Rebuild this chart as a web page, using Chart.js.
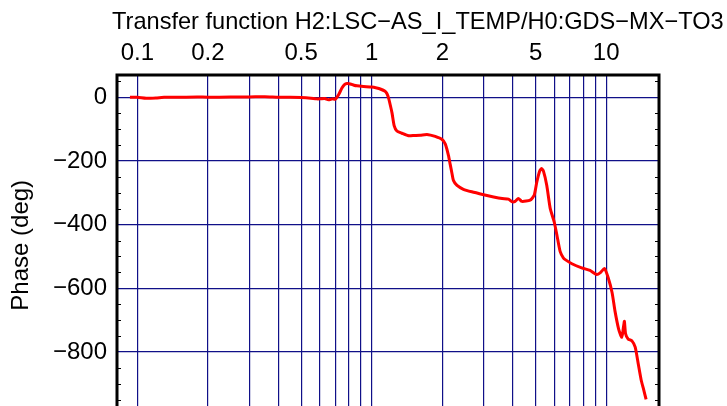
<!DOCTYPE html>
<html>
<head>
<meta charset="utf-8">
<script src="https://cdn.jsdelivr.net/npm/chart.js@4/dist/chart.umd.min.js"></script>
<style>
  html, body { margin: 0; padding: 0; overflow: hidden; background: #fff; }
  #wrap { width: 727px; height: 440px; }
</style>
</head>
<body>
<div id="wrap"><canvas id="phaseChart" width="727" height="440"></canvas></div>
<script>
// Transfer function phase
const freq = [0.093, 0.1, 0.109, 0.12, 0.13, 0.15, 0.18, 0.2, 0.25, 0.3, 0.35, 0.4, 0.45, 0.5, 0.55, 0.58,
  0.603, 0.63, 0.654, 0.68, 0.699, 0.722, 0.746, 0.765, 0.784, 0.81, 0.84, 0.865, 0.923, 1.0, 1.05, 1.087,
  1.14, 1.16, 1.179, 1.2, 1.22, 1.247, 1.28, 1.345, 1.436, 1.52, 1.61, 1.72, 1.78, 1.865, 1.99, 2.06,
  2.125, 2.16, 2.2, 2.23, 2.31, 2.46, 2.67, 3.0, 3.31, 3.6, 3.83, 3.96, 4.09, 4.22, 4.37, 4.74, 4.93,
  5.06, 5.2, 5.3, 5.4, 5.58, 5.77, 6.0, 6.16, 6.36, 6.57, 6.69, 7.14, 7.86, 8.53, 9.1, 9.45, 9.83, 10.2,
  10.6, 10.9, 11.3, 11.66, 11.85, 11.96, 12.1, 12.4, 12.9, 13.3, 13.7, 14.1, 14.4, 14.8];
const phase = [0, 0, -3, -2, 0, 0, 1, 0, 1, 1, 2, 0, 0, -1, -3, -5,
  -5, -4, -8, -5, -6, 8, 29, 40, 43, 42, 38, 36, 34, 32, 29, 26,
  19, 12, -2, -25, -49, -90, -106, -113, -121, -120, -119, -117, -119, -123, -132, -147,
  -183, -210, -240, -261, -277, -289, -297, -306, -313, -318, -320, -328, -327, -318, -327, -323, -308,
  -266, -232, -224, -232, -277, -349, -391, -432, -484, -505, -510, -523, -536, -544, -557, -551, -538, -567,
  -614, -671, -728, -754, -722, -704, -743, -759, -766, -785, -837, -888, -914, -949];

const xGrid = [0.1, 0.2, 0.3, 0.4, 0.5, 0.6, 0.7, 0.8, 0.9, 1, 2, 3, 4, 5, 6, 7, 8, 9, 10];
const xLabels = [0.1, 0.2, 0.5, 1, 2, 5, 10];
const yTicks = [-800, -600, -400, -200, 0];
const yMinor = [-950, -900, -850, -750, -700, -650, -550, -500, -450, -350, -300, -250, -150, -100, -50, 50];

const titleText = 'Transfer function H2:LSC\u2212AS_I_TEMP/H0:GDS\u2212MX\u2212TO3';
const FONT = "'Liberation Sans', Arial, sans-serif";
Chart.defaults.font.family = FONT;
Chart.defaults.color = '#000';

// title, frame and inner minor ticks
const decor = {
  id: 'decor',
  afterDraw(chart) {
    const { ctx, chartArea: a } = chart;
    const y = chart.scales.y;
    ctx.save();
    ctx.strokeStyle = '#000';
    ctx.lineWidth = 1;
    yMinor.forEach(v => {
      const py = Math.round(y.getPixelForValue(v)) + 0.5;
      if (py < a.top || py > a.bottom) return;
      ctx.beginPath();
      ctx.moveTo(a.left, py); ctx.lineTo(a.left + 4, py);
      ctx.moveTo(a.right, py); ctx.lineTo(a.right - 4, py);
      ctx.stroke();
    });
    ctx.lineWidth = 3;
    ctx.strokeRect(a.left, a.top, a.right - a.left, a.bottom - a.top);
    ctx.fillStyle = '#000';
    ctx.font = '23.6px ' + FONT;
    ctx.textBaseline = 'alphabetic';
    ctx.textAlign = 'left';
    ctx.fillText(titleText, 112, 29);
    ctx.restore();
  }
};

new Chart(document.getElementById('phaseChart'), {
  type: 'line',
  data: {
    datasets: [{
      data: freq.map((f, i) => ({ x: f, y: phase[i] })),
      borderColor: '#ff0000',
      borderWidth: 3,
      pointRadius: 0,
      tension: 0.2
    }]
  },
  options: {
    responsive: false,
    animation: false,
    layout: { padding: { left: 0, right: 68, top: 0, bottom: 21 } },
    plugins: { legend: { display: false }, tooltip: { enabled: false } },
    scales: {
      x: {
        type: 'logarithmic',
        position: 'top',
        min: 0.0819,
        max: 16.8,
        afterBuildTicks: s => { s.ticks = xGrid.map(v => ({ value: v })); },
        afterFit: s => { s.height = 75; },
        grid: { color: '#101088', lineWidth: 1.2, drawTicks: false },
        border: { display: false },
        ticks: {
          autoSkip: false,
          maxRotation: 0,
          padding: 7,
          font: { size: 24 },
          callback: v => xLabels.includes(v) ? String(v) : ''
        }
      },
      y: {
        type: 'linear',
        min: -1000,
        max: 70,
        afterBuildTicks: s => { s.ticks = yTicks.map(v => ({ value: v })); },
        afterFit: s => { s.width = 117; },
        grid: { color: '#101088', lineWidth: 1.2, drawTicks: false },
        border: { display: false },
        title: { display: true, text: 'Phase (deg)', font: { size: 24 }, padding: { top: 7, bottom: 0 } },
        ticks: {
          padding: 10,
          font: { size: 24 },
          callback: v => v < 0 ? '\u2212' + Math.abs(v) : String(v)
        }
      }
    }
  },
  plugins: [decor]
});
</script>
</body>
</html>
